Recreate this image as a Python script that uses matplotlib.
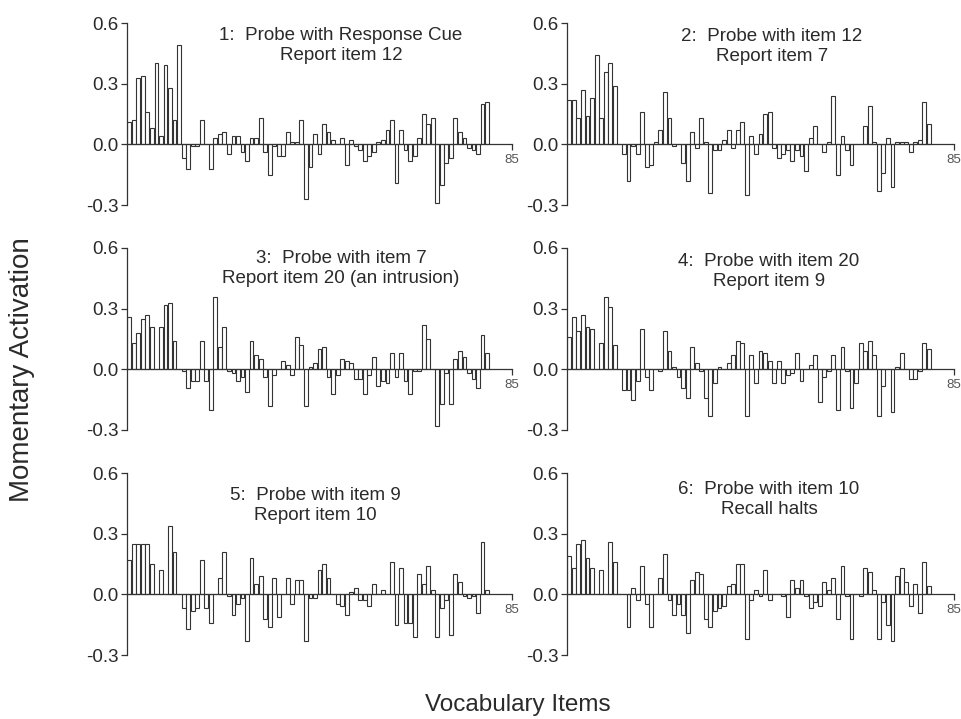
import matplotlib
matplotlib.use("Agg")
import matplotlib.pyplot as plt
import numpy as np

plt.rcParams['font.family'] = ['Liberation Sans', 'DejaVu Sans']

items = np.arange(1, 81)

panel1 = [0.11, 0.12, 0.33, 0.34, 0.16, 0.08, 0.40, 0.04, 0.39, 0.28, 0.12, 0.49,
          -0.07, -0.12, -0.01, -0.01, 0.12, 0.0, -0.12, 0.03, 0.05, 0.06, -0.05, 0.04,
          0.04, -0.04, -0.08, 0.03, 0.03, 0.13, -0.04, -0.15, -0.01, -0.06, -0.06, 0.06,
          0.01, 0.01, 0.12, -0.27, -0.11, 0.05, -0.05, 0.10, 0.06, 0.02, 0.0, 0.03,
          -0.10, 0.02, -0.01, -0.03, -0.08, -0.06, -0.04, 0.01, 0.02, 0.07, 0.12, -0.19,
          0.07, -0.03, -0.08, -0.06, 0.03, 0.15, 0.10, 0.13, -0.29, -0.20, -0.09, -0.07,
          0.13, 0.06, 0.03, -0.02, -0.03, -0.05, 0.20, 0.21]

panel2 = [0.22, 0.22, 0.13, 0.27, 0.14, 0.23, 0.44, 0.13, 0.36, 0.40, 0.29, 0.0,
          -0.05, -0.18, -0.01, -0.05, 0.16, -0.11, -0.10, 0.01, 0.07, 0.26, 0.13, -0.01,
          0.0, -0.09, -0.18, 0.06, -0.02, 0.13, 0.01, -0.24, -0.03, -0.03, 0.02, 0.07,
          -0.02, 0.07, 0.11, -0.25, 0.04, -0.05, 0.05, 0.15, 0.16, -0.02, -0.07, -0.05,
          -0.03, -0.08, -0.03, -0.06, -0.13, 0.03, 0.09, 0.0, -0.04, 0.01, 0.24, -0.15,
          0.04, -0.03, -0.10, 0.0, 0.0, 0.09, 0.19, 0.01, -0.23, -0.14, 0.03, -0.21,
          0.01, 0.01, 0.01, -0.04, 0.01, 0.02, 0.21, 0.10]

panel3 = [0.26, 0.13, 0.18, 0.25, 0.27, 0.21, 0.0, 0.21, 0.32, 0.33, 0.14, 0.0,
          -0.01, -0.09, -0.06, -0.06, 0.14, -0.06, -0.20, 0.36, 0.11, 0.21, -0.01, -0.02,
          -0.06, -0.04, -0.11, 0.14, 0.07, 0.05, -0.04, -0.18, -0.03, 0.0, 0.04, 0.02,
          -0.03, 0.16, 0.12, -0.18, 0.01, 0.03, 0.10, 0.11, -0.04, -0.12, -0.03, 0.05,
          0.04, 0.03, -0.05, -0.05, -0.12, -0.03, 0.06, -0.08, -0.06, -0.07, 0.08, -0.04,
          0.08, -0.06, -0.12, -0.01, -0.01, 0.22, 0.15, 0.0, -0.28, -0.17, -0.02, -0.17,
          0.05, 0.09, 0.06, -0.02, -0.05, -0.09, 0.17, 0.08]

panel4 = [0.16, 0.26, 0.19, 0.27, 0.21, 0.20, 0.0, 0.13, 0.36, 0.31, 0.12, 0.0,
          -0.10, -0.10, -0.15, -0.06, 0.20, -0.04, -0.10, 0.0, -0.01, 0.19, 0.09, 0.01,
          -0.04, -0.09, -0.14, 0.11, 0.03, -0.01, -0.14, -0.23, -0.07, 0.01, 0.0, 0.03,
          0.07, 0.14, 0.13, -0.23, 0.07, -0.07, 0.09, 0.08, 0.04, -0.07, 0.04, -0.07,
          -0.03, -0.02, 0.08, -0.06, 0.0, 0.02, 0.07, -0.16, -0.04, -0.01, 0.07, -0.20,
          0.11, -0.01, -0.19, -0.07, 0.13, 0.09, 0.14, 0.07, -0.23, -0.08, 0.0, -0.21,
          0.01, 0.08, 0.0, -0.05, -0.05, -0.01, 0.13, 0.10]

panel5 = [0.17, 0.25, 0.25, 0.25, 0.25, 0.15, 0.0, 0.12, 0.0, 0.34, 0.21, 0.0,
          -0.07, -0.17, -0.08, -0.07, 0.17, -0.07, -0.14, 0.0, 0.08, 0.21, -0.01, -0.10,
          -0.05, -0.02, -0.23, 0.18, 0.05, 0.09, -0.12, -0.16, 0.08, -0.11, 0.0, 0.08,
          -0.05, 0.07, 0.07, -0.23, -0.02, -0.02, 0.12, 0.15, 0.08, 0.0, -0.05, -0.06,
          -0.10, 0.01, 0.03, -0.03, -0.03, -0.06, 0.05, 0.0, 0.02, 0.0, 0.16, -0.15,
          0.13, -0.14, -0.14, -0.21, 0.10, 0.05, 0.14, 0.02, -0.21, -0.07, -0.03, -0.20,
          0.10, 0.06, -0.01, -0.02, -0.01, -0.09, 0.26, 0.02]

panel6 = [0.19, 0.13, 0.25, 0.27, 0.18, 0.13, 0.0, 0.12, 0.0, 0.26, 0.16, 0.0,
          0.0, -0.16, 0.03, -0.03, 0.14, -0.05, -0.16, 0.0, 0.08, 0.20, -0.03, -0.10,
          -0.05, -0.10, -0.19, 0.07, 0.11, 0.10, -0.12, -0.16, -0.08, -0.07, -0.06, 0.04,
          0.05, 0.15, 0.15, -0.22, -0.03, 0.02, -0.01, 0.12, -0.03, 0.0, 0.0, -0.01,
          -0.11, 0.07, 0.03, 0.07, -0.01, -0.07, -0.04, -0.06, 0.06, 0.02, 0.08, -0.12,
          0.14, -0.01, -0.22, 0.0, -0.01, 0.13, 0.11, 0.02, -0.22, -0.04, -0.15, -0.23,
          0.09, 0.13, 0.06, -0.06, 0.05, -0.09, 0.16, 0.04]

titles = ["1:  Probe with Response Cue\nReport item 12",
          "2:  Probe with item 12\nReport item 7",
          "3:  Probe with item 7\nReport item 20 (an intrusion)",
          "4:  Probe with item 20\nReport item 9",
          "5:  Probe with item 9\nReport item 10",
          "6:  Probe with item 10\nRecall halts"]

yticks = [-0.3, 0.0, 0.3, 0.6]
ytick_labels = ["-0.3", "0.0", "0.3", "0.6"]
xmax = 85

panels = [panel1, panel2, panel3, panel4, panel5, panel6]

W, H = 961, 719
fig = plt.figure(figsize=(W / 100, H / 100), dpi=100)

lefts = [127, 567]
widths = [385, 387]
tops = [23, 248, 473]
height = 182
title_pos = [(0.556, 0.876), (0.53, 0.871), (0.556, 0.887),
             (0.522, 0.871), (0.488, 0.82), (0.522, 0.856)]

text_col = '#2a2a2a'
for i, vals in enumerate(panels):
    r, c = divmod(i, 2)
    ax = fig.add_axes([lefts[c] / W, 1 - (tops[r] + height) / H, widths[c] / W, height / H])
    ax.bar(items - 0.5, vals, width=0.85, color='white', edgecolor='#333333', linewidth=0.8)
    ax.set_xlim(0, xmax)
    ax.set_ylim(-0.3, 0.6)
    ax.spines['top'].set_visible(False)
    ax.spines['right'].set_visible(False)
    ax.spines['bottom'].set_position(('data', 0))
    ax.spines['left'].set_color('#333333')
    ax.spines['bottom'].set_color('#333333')
    ax.spines['left'].set_linewidth(0.9)
    ax.spines['bottom'].set_linewidth(0.9)
    ax.set_yticks(yticks)
    ax.set_yticklabels(ytick_labels, fontsize=13.5, color=text_col)
    ax.set_xticks([xmax])
    ax.set_xticklabels([str(xmax)], fontsize=9.5, color='#555555')
    ax.tick_params(axis='y', direction='out', length=4, width=0.9, color='#333333', pad=2)
    ax.tick_params(axis='x', direction='out', length=4, width=0.9, color='#333333', pad=3)
    ax.patch.set_alpha(0)
    tx, ty = title_pos[i]
    ax.text(tx, ty, titles[i], transform=ax.transAxes, ha='center', va='center',
            fontsize=13.5, color=text_col, linespacing=1.25)

fig.text(22 / W, 1 - 370 / H, "Momentary Activation", rotation=90, ha='center', va='center',
         fontsize=20, color=text_col)
fig.text(518 / W, 1 - 705 / H, "Vocabulary Items", ha='center', va='center',
         fontsize=17.5, color=text_col)

fig.savefig("out.png", dpi=100, facecolor='white')
